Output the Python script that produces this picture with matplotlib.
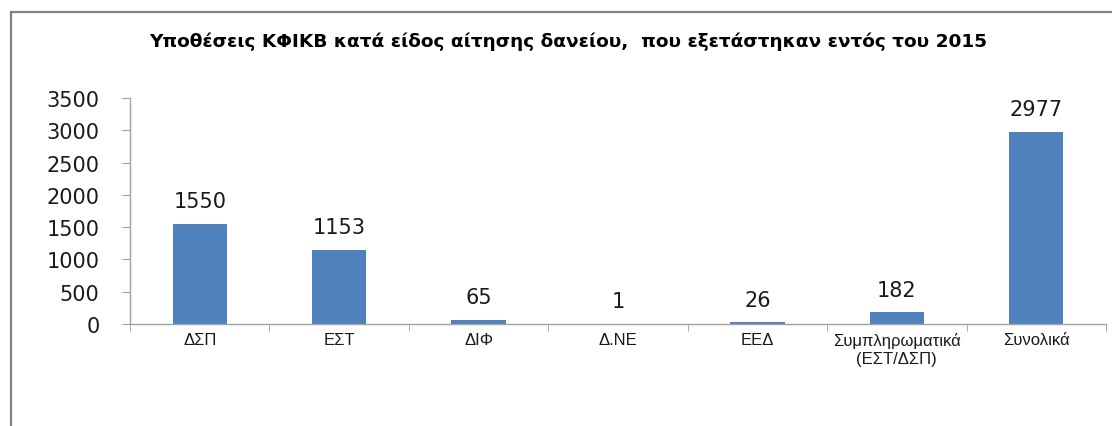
import matplotlib
matplotlib.use("Agg")
import matplotlib.pyplot as plt
from matplotlib.patches import Rectangle
import numpy as np

categories = ["ΔΣΠ", "ΕΣΤ", "ΔΙΦ", "Δ.ΝΕ", "ΕΕΔ", "Συμπληρωματικά\n(ΕΣΤ/ΔΣΠ)", "Συνολικά"]
values = [1550, 1153, 65, 1, 26, 182, 2977]
yticks = [0, 500, 1000, 1500, 2000, 2500, 3000, 3500]
title = "Υποθέσεις ΚΦΙΚΒ κατά είδος αίτησης δανείου,  που εξετάστηκαν εντός του 2015"

W, H = 1112, 427
fig = plt.figure(figsize=(W / 100, H / 100), dpi=100)

# outer chart frame
fig.patches.append(Rectangle((11 / W, -0.2), 2.0, 1.2 - 13 / H, transform=fig.transFigure,
                             fill=False, edgecolor="#808080", linewidth=1.6))

ax = fig.add_axes([130 / W, 1 - 325 / H, (1106 - 130) / W, (325 - 99) / H])
x = np.arange(len(categories))
ax.bar(x, values, width=0.39, color="#4F81BD", zorder=2)

ax.set_xlim(-0.5, len(categories) - 0.5)
ax.set_ylim(0, 3500)
ax.set_yticks(yticks)
ax.set_yticklabels([str(t) for t in yticks], fontsize=15, family="DejaVu Sans", color="#1a1a1a")

ax.set_xticks(x)
ax.set_xticklabels(categories, fontsize=12, family="Liberation Sans", color="#1a1a1a")
for lbl in ax.get_xticklabels():
    lbl.set_linespacing(1.2)
ax.set_xticks(np.arange(-0.5, len(categories), 1.0), minor=True)
ax.tick_params(axis="x", which="major", length=0, pad=6)
ax.tick_params(axis="x", which="minor", length=5, color="#A0A0A0", direction="out")
ax.tick_params(axis="y", length=6, color="#A0A0A0", direction="out", pad=16)

for s in ["top", "right"]:
    ax.spines[s].set_visible(False)
for s in ["left", "bottom"]:
    ax.spines[s].set_color("#A0A0A0")
    ax.spines[s].set_linewidth(1.0)

for xi, v in zip(x, values):
    ax.annotate(str(v), (xi, v), xytext=(0, 9), textcoords="offset points",
                ha="center", va="bottom", fontsize=15, family="DejaVu Sans", color="#1a1a1a")

fig.text(568 / W, 1 - 42 / H, title, ha="center", va="center", fontsize=13.3,
         fontweight="bold", family="DejaVu Sans", color="#000000")

fig.savefig("out.png", dpi=100)
